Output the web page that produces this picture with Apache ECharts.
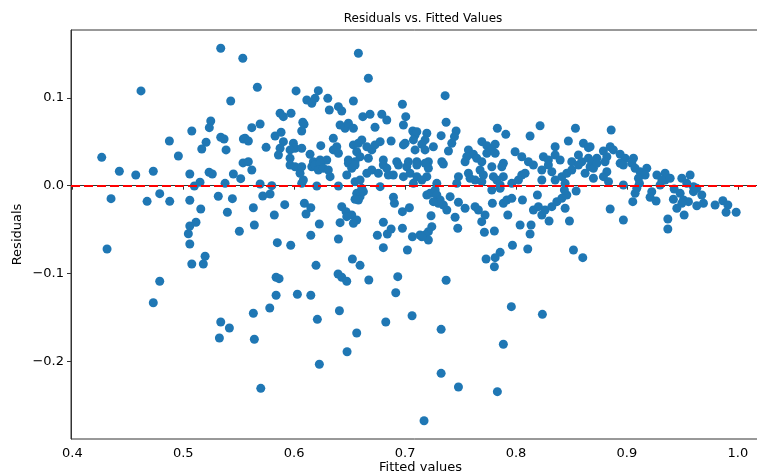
<!DOCTYPE html>
<html>
<head>
<meta charset="utf-8">
<script src="https://cdn.jsdelivr.net/npm/echarts@6/dist/echarts.min.js"></script>
<style>
  html, body { margin: 0; padding: 0; background: #fff; overflow: hidden; }
  #chart { width: 757px; height: 476px; }
</style>
</head>
<body>
<div id="chart"></div>
<script>
// fitted values (x) and residuals (y), same order
const fitted = [
  0.5338,0.5537,0.4619,0.5428,0.5248,0.5235,0.5077,0.4875,0.5206,0.5167,
  0.5338,0.5368,0.5386,0.5542,0.4956,0.4265,0.5539,0.4424,0.4572,0.4730,
  0.5059,0.5233,0.5262,0.5452,0.5518,0.5100,0.5151,0.5377,0.4349,0.4674,
  0.4788,0.4878,0.5059,0.5316,0.5443,0.5158,0.5398,0.5115,0.5059,0.5046,
  0.5059,0.5506,0.4313,0.5197,0.5077,0.5181,0.4788,0.4730,0.5338,0.5416,
  0.5326,0.5632,0.5780,0.6209,0.6408,0.6826,0.7063,0.5641,0.6564,0.6477,
  0.6227,0.5699,0.7171,0.7958,0.8238,0.7325,0.7886,0.7325,0.7481,0.7832,
  // below zero, middle
  0.5587,0.5618,0.5693,0.5798,0.5717,0.5783,0.5632,0.5915,0.5821,0.5641,
  0.6092,0.6150,0.6107,0.6227,0.6150,0.5848,0.5969,0.6399,0.6197,0.5837,
  0.5864,0.5837,0.6029,0.6150,0.6525,0.6594,0.6396,0.6429,0.6474,0.6673,
  0.6934,0.6916,0.6429,0.6468,0.6519,0.6564,0.6534,0.6414,0.6474,0.6804,
  0.6750,0.6840,0.6874,0.6976,0.7066,0.7135,0.6804,0.7021,0.6904,0.6895,
  0.6976,0.7039,0.6564,0.6594,0.6579,0.6549,0.6624,0.6610,0.6204,0.6399,
  0.6068,0.6083,0.6053,0.6775,
  0.7196,0.7225,0.7271,0.7286,0.7316,0.7345,0.7376,0.7300,0.7255,0.7406,
  0.7481,0.7541,0.7234,0.7241,0.7210,0.7180,0.7210,0.7151,0.7451,0.7475,
  0.7631,0.7661,0.7721,0.7691,0.7715,0.7805,0.7787,0.7886,0.7917,0.7962,
  0.7926,0.8058,0.8037,0.8136,0.8127,0.7968,0.8106,0.7857,0.7812,0.7730,
  0.7805,0.7370,0.8193,0.8157,0.8202,0.8233,0.8262,0.8298,0.8323,0.8368,
  0.8413,0.8458,0.8436,0.8443,0.8482,0.8542,0.8518,0.8602,0.7782,0.7857,
  // right tail
  0.8849,0.8968,0.8968,0.9053,0.9074,0.9089,0.9113,0.9224,0.9209,0.9263,
  0.9369,0.9369,0.9419,0.9450,0.9480,0.9510,0.9555,0.9495,0.9516,0.9630,
  0.9690,0.9675,0.9600,0.9630,0.9795,0.9865,0.9910,0.9894,0.9985,0.9426,
  0.9299,0.9345,
  0.8858,0.8668,0.8788,0.8849,0.8878,0.8939,0.8984,0.9059,0.8819,0.8729,
  // above zero, middle
  0.6579,0.6669,0.5668,0.6017,0.6114,0.6159,0.6188,0.6218,0.6303,0.6317,
  0.6399,0.6429,0.6534,0.6976,0.5873,0.5903,0.5972,0.5693,0.5618,0.6078,
  0.6089,0.6068,0.6414,0.6459,0.6489,0.6534,0.6619,0.6684,0.6790,0.6835,
  0.7006,0.6985,0.6729,0.7069,0.7090,0.5828,0.5882,0.5903,0.5557,0.5587,
  0.5747,0.5993,0.6008,0.6068,0.5963,0.5873,0.5858,0.6143,0.6240,0.6353,
  0.6384,0.6353,0.6399,0.6534,0.6579,0.6610,0.6655,0.6564,0.6594,0.6700,
  0.6729,0.6775,0.6874,0.6985,0.7000,0.7075,0.7090,
  0.5963,0.6173,0.6234,0.6294,0.6489,0.6549,0.6669,0.6804,0.6925,0.7030,0.7106,
  0.7361,0.7370,0.7460,0.7445,0.7325,0.7196,0.7180,0.7106,0.7151,0.7255,
  0.7180,0.7421,0.7391,0.7832,0.7908,0.8127,0.8217,0.8536,0.8472,0.8608,
  0.8653,0.7692,0.7737,0.7812,0.7782,0.7737,0.7812,0.7571,0.7616,0.7556,
  0.7646,0.7992,0.8052,0.8112,0.8247,0.8292,0.8353,0.8353,0.8398,
  0.7210,0.7331,0.7541,0.7692,0.7886,0.8503,0.8563,0.8593,0.8653,0.8683,
  // just above the zero line
  0.5963,0.6008,0.6068,0.6159,0.6188,0.6234,0.6218,0.6263,0.6308,0.6324,
  0.6489,0.6519,0.6549,0.6474,0.6549,0.6594,0.6655,0.6700,0.6759,0.6804,
  0.6835,0.6849,0.6894,0.6940,0.6985,0.7015,0.7045,0.7075,0.7106,
  0.7180,0.7210,0.7106,0.7196,0.7151,0.7286,0.7345,0.7481,0.7466,0.7571,
  0.7586,0.7631,0.7676,0.7706,0.7692,0.7782,0.7796,0.7827,0.7872,0.7886,
  0.7857,0.7962,0.8022,0.8052,0.8082,0.8157,0.8233,0.8233,0.8292,0.8323,
  0.8353,0.8413,0.8458,0.8503,0.8563,0.8623,0.8668,0.8698,0.8443,
  0.8698,0.8729,0.8803,0.8819,0.8788,0.8834,0.8939,0.8968,0.9044,0.9074,
  0.9119,0.9179,0.9164,0.9104,0.9270,0.9344,0.9315,0.9390,0.9495,0.9570,
  0.9540,0.9600
];
const residuals = [
  0.1565,0.1451,0.1079,0.0965,0.0737,0.0661,0.0623,0.0509,0.0494,0.0418,
  0.0551,0.0532,0.0407,0.0532,0.0338,0.0323,0.0259,0.0164,0.0122,0.0164,
  0.0133,0.0153,0.0133,0.0133,0.0080,-0.0003,0.0039,0.0027,-0.0148,-0.0178,
  -0.0091,-0.0178,-0.0166,-0.0121,-0.0148,-0.0265,-0.0303,-0.0417,-0.0459,-0.0547,
  -0.0664,-0.0519,-0.0721,-0.0804,-0.0892,-0.0892,-0.1089,-0.1333,-0.1552,-0.1621,
  -0.1735,-0.1453,-0.1393,-0.1522,-0.1424,-0.1552,-0.1481,-0.1749,-0.1678,-0.1891,
  -0.2034,-0.2308,-0.2677,-0.1378,-0.1465,-0.1636,-0.1806,-0.2137,-0.2293,-0.2346,
  0.0273,0.0179,0.0019,0.0000,-0.0117,-0.0095,-0.0251,-0.0216,-0.0334,-0.0448,
  -0.0200,-0.0251,-0.0322,-0.0436,-0.0565,-0.0649,-0.0679,-0.0607,-0.0907,-0.1043,
  -0.1059,-0.1248,-0.1237,-0.1248,-0.0835,-0.0907,-0.1006,-0.1043,-0.1089,-0.1074,
  -0.1036,-0.1219,-0.0239,-0.0296,-0.0334,-0.0391,-0.0428,-0.0421,-0.0353,-0.0417,
  -0.0565,-0.0550,-0.0493,-0.0485,-0.0581,-0.0562,-0.0706,-0.0732,-0.0200,-0.0132,
  -0.0296,-0.0251,-0.0087,-0.0125,-0.0163,-0.0155,-0.0068,-0.0030,-0.0003,-0.0003,
  0.0027,0.0065,0.0141,-0.0011,
  -0.0106,-0.0087,-0.0049,-0.0106,-0.0163,-0.0220,-0.0277,-0.0200,-0.0182,-0.0125,
  -0.0189,-0.0257,-0.0342,-0.0467,-0.0524,-0.0562,-0.0618,-0.0581,-0.0360,-0.0485,
  -0.0239,-0.0277,-0.0334,-0.0410,-0.0531,-0.0516,-0.0200,-0.0200,-0.0163,-0.0144,
  -0.0334,-0.0163,-0.0448,-0.0448,-0.0550,-0.0679,-0.0721,-0.0759,-0.0820,-0.0835,
  -0.0923,-0.1077,-0.0106,-0.0277,-0.0239,-0.0334,-0.0277,-0.0402,-0.0239,-0.0182,
  -0.0144,-0.0106,-0.0049,-0.0257,-0.0402,-0.0060,-0.0732,-0.0820,-0.0049,-0.0030,
  -0.0265,-0.0391,0.0008,-0.0182,-0.0087,-0.0030,0.0027,-0.0068,-0.0132,-0.0174,
  -0.0379,-0.0493,-0.0155,-0.0257,-0.0087,-0.0163,-0.0182,-0.0200,-0.0334,-0.0228,
  -0.0200,-0.0106,-0.0068,-0.0030,-0.0220,-0.0171,-0.0220,-0.0303,-0.0303,-0.0038,
  0.0008,0.0065,
  0.0634,0.0444,0.0395,0.0444,0.0407,0.0358,0.0312,0.0312,0.0330,0.0312,
  0.1508,0.1223,0.1121,0.1079,0.0976,0.0939,0.0995,0.1082,0.0995,0.0862,
  0.0900,0.0851,0.0965,0.0927,0.0825,0.0786,0.0825,0.0703,0.0661,0.0722,
  0.0699,0.0623,0.0691,0.0654,0.0711,0.0654,0.0786,0.0813,0.0813,0.0748,
  0.0786,0.0691,0.0665,0.0623,0.0577,0.0566,0.0608,0.0501,0.0540,0.0509,
  0.0437,0.0483,0.0426,0.0426,0.0407,0.0426,0.0350,0.0358,0.0456,0.0540,
  0.0444,0.0407,0.0369,0.0464,0.0483,0.0521,0.0444,0.0387,0.0330,0.0407,
  0.0464,0.0501,0.0509,0.0464,0.0483,0.0521,0.0407,
  0.0312,0.0273,0.0293,0.0293,0.0293,0.0273,0.0312,0.0293,0.0273,0.0273,0.0273,
  0.1025,0.0722,0.0623,0.0558,0.0570,0.0597,0.0521,0.0615,0.0472,0.0444,
  0.0407,0.0483,0.0395,0.0654,0.0585,0.0566,0.0683,0.0654,0.0509,0.0483,
  0.0433,0.0501,0.0456,0.0472,0.0407,0.0369,0.0369,0.0407,0.0358,0.0330,
  0.0312,0.0387,0.0330,0.0273,0.0330,0.0293,0.0444,0.0350,0.0293,
  0.0273,0.0273,0.0273,0.0273,0.0255,0.0273,0.0350,0.0273,0.0312,0.0273,
  0.0236,0.0216,0.0216,0.0216,0.0236,0.0255,0.0179,0.0198,0.0179,0.0103,
  0.0255,0.0198,0.0236,0.0122,0.0046,0.0065,0.0141,0.0179,0.0141,0.0236,
  0.0198,0.0122,0.0122,0.0236,0.0103,0.0216,0.0141,0.0027,0.0236,
  0.0255,0.0198,0.0103,0.0103,0.0065,0.0027,0.0247,0.0103,0.0027,0.0141,
  0.0084,0.0065,0.0179,0.0122,0.0046,0.0216,0.0103,0.0065,0.0216,0.0103,
  0.0008,0.0027,0.0065,0.0122,0.0141,0.0236,0.0179,0.0065,0.0236,0.0159,
  0.0065,0.0103,0.0141,0.0179,0.0236,0.0141,0.0216,0.0084,0.0027,
  0.0198,0.0255,0.0273,0.0159,0.0103,0.0046,0.0255,0.0236,0.0255,0.0198,
  0.0159,0.0198,0.0122,0.0084,0.0122,0.0141,0.0065,0.0084,0.0084,0.0122,
  0.0027,-0.0011
];

const xTicks = [0.4, 0.5, 0.6, 0.7, 0.8, 0.9, 1.0];
const yTicks = [-0.2, -0.1, 0.0, 0.1];

if (fitted.length !== residuals.length) console.error('length mismatch', fitted.length, residuals.length);
const points = fitted.map((x, i) => [x, residuals[i]]);

const chart = echarts.init(document.getElementById('chart'));
chart.setOption({
  animation: false,
  textStyle: { fontFamily: 'DejaVu Sans' },
  title: {
    text: 'Residuals vs. Fitted Values',
    left: 418,
    top: 8,
    textAlign: 'center',
    textStyle: { fontSize: 12, fontWeight: 'normal', color: '#000' }
  },
  grid: {
    left: 71, top: 30, width: 699, height: 409,
    outerBoundsMode: 'none',
    show: true, borderColor: '#333', borderWidth: 1
  },
  xAxis: {
    type: 'value',
    min: 0.3988,
    max: 1.029,
    name: 'Fitted values',
    nameLocation: 'middle',
    nameGap: 22,
    nameMoveOverlap: false,
    nameTextStyle: { fontSize: 13, color: '#000' },
    axisLine: { lineStyle: { color: '#333', width: 1 } },
    axisTick: { customValues: xTicks, length: 4, lineStyle: { color: '#333' } },
    axisLabel: {
      customValues: xTicks,
      color: '#000', fontSize: 13, margin: 8,
      formatter: v => v.toFixed(1)
    },
    splitLine: { show: false }
  },
  yAxis: {
    type: 'value',
    min: -0.2885,
    max: 0.1773,
    name: 'Residuals',
    nameLocation: 'middle',
    nameRotate: 90,
    nameGap: 47,
    nameMoveOverlap: false,
    nameTextStyle: { fontSize: 13, color: '#000' },
    axisLine: { show: true, lineStyle: { color: '#333', width: 1 } },
    axisTick: { show: true, customValues: yTicks, length: 4, lineStyle: { color: '#333' } },
    axisLabel: {
      customValues: yTicks,
      color: '#000', fontSize: 13, margin: 7,
      formatter: v => (v < 0 ? '\u2212' : '') + Math.abs(v).toFixed(1)
    },
    splitLine: { show: false }
  },
  series: [{
    type: 'scatter',
    data: points,
    symbolSize: 9,
    itemStyle: { color: '#1f77b4', opacity: 1 },
    silent: true,
    markLine: {
      silent: true,
      symbol: ['none', 'none'],
      label: { show: false },
      lineStyle: { color: '#ff0000', type: [9, 4], width: 2, opacity: 1 },
      data: [{ yAxis: 0 }]
    }
  }]
});
</script>
</body>
</html>
